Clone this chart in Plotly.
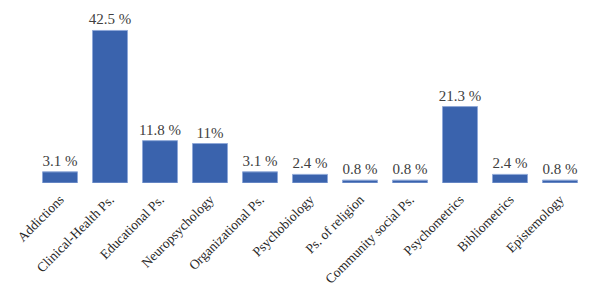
import plotly.graph_objects as go

categories = ["Addictions", "Clinical-Health Ps.", "Educational Ps.", "Neuropsychology",
              "Organizational Ps.", "Psychobiology", "Ps. of religion", "Community social Ps.",
              "Psychometrics", "Bibliometrics", "Epistemology"]
values = [3.1, 42.5, 11.8, 11, 3.1, 2.4, 0.8, 0.8, 21.3, 2.4, 0.8]
labels = ["3.1 %", "42.5 %", "11.8 %", "11%", "3.1 %", "2.4 %", "0.8 %", "0.8 %",
          "21.3 %", "2.4 %", "0.8 %"]

SERIF = "Liberation Serif, Times New Roman, serif"

fig = go.Figure(go.Bar(
    x=categories, y=values, text=labels, textposition="outside", cliponaxis=False,
    constraintext="none",
    textfont=dict(family=SERIF, size=15, color="#404040"),
    marker=dict(color="#3a63ad", line=dict(color="#8fa8d8", width=1)),
))
fig.update_layout(
    width=600, height=297, margin=dict(l=35, r=15, t=10, b=112),
    paper_bgcolor="white", plot_bgcolor="white", bargap=0.3, showlegend=False,
    font=dict(family=SERIF, size=13, color="#262626"),
    uniformtext=dict(minsize=15, mode="show"),
)
fig.update_xaxes(tickangle=-45, showline=False, ticks="", showgrid=False,
                 ticklabelstandoff=5,
                 tickfont=dict(family=SERIF, size=13.5, color="#262626"))
fig.update_yaxes(visible=False, range=[0, 48.2])
fig.write_html("out.html")
